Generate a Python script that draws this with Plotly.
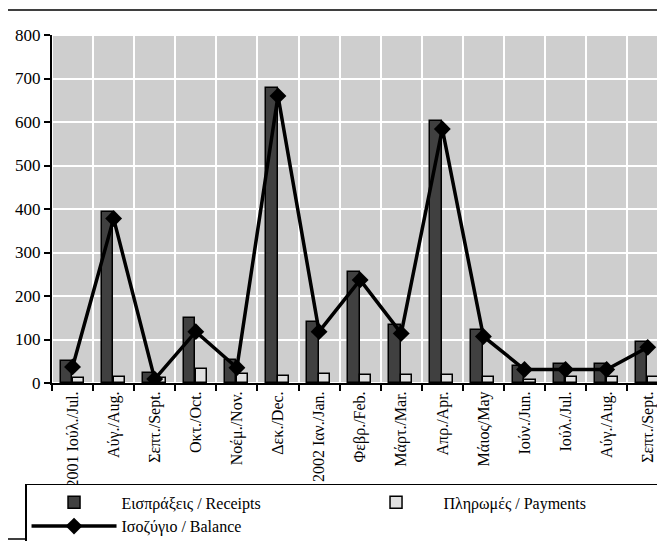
import plotly.graph_objects as go

months = ["2001 Ιούλ./Jul.", "Αύγ./Aug.", "Σεπτ./Sept.", "Οκτ./Oct.", "Νοέμ./Nov.",
          "Δεκ./Dec.", "2002 Ιαν./Jan.", "Φεβρ./Feb.", "Μάρτ./Mar.", "Απρ./Apr.",
          "Μάιος/May", "Ιούν./Jun.", "Ιούλ./Jul.", "Αύγ./Aug.", "Σεπτ./Sept."]
receipts = [50, 392, 23, 149, 53, 678, 140, 255, 133, 602, 122, 39, 44, 44, 94]
payments = [12, 14, 12, 32, 21, 17, 21, 18, 18, 18, 13, 8, 13, 13, 13]
balance = [37, 378, 9, 118, 35, 660, 118, 237, 114, 584, 107, 31, 31, 31, 82]
yticks = [0, 100, 200, 300, 400, 500, 600, 700, 800]

xs = list(range(len(months)))
serif = "Liberation Serif, Times New Roman, serif"

fig = go.Figure()

# stippled background cells, white gaps act as gridlines
bg_x, bg_base, bg_h = [], [], []
for i in xs:
    for k in range(len(yticks) - 1):
        bg_x.append(i)
        bg_base.append(yticks[k])
        bg_h.append(yticks[k + 1] - yticks[k])
fig.add_trace(go.Bar(
    x=bg_x, y=bg_h, base=bg_base, width=1, offset=-0.5,
    marker=dict(color="white", line=dict(color="white", width=2),
                pattern=dict(shape=".", fgcolor="#1e1e1e", bgcolor="white",
                             size=2, solidity=0.5)),
    showlegend=False, hoverinfo="skip",
))

fig.add_trace(go.Bar(
    x=xs, y=receipts, name="Εισπράξεις / Receipts", width=0.28, offset=-0.29,
    marker=dict(color="#404040", line=dict(color="black", width=1.5)),
))
fig.add_trace(go.Bar(
    x=xs, y=payments, name="Πληρωμές / Payments", width=0.27, offset=0.0,
    marker=dict(color="#e0e0e0", line=dict(color="black", width=1.5)),
))
fig.add_trace(go.Scatter(
    x=xs, y=balance, name="Ισοζύγιο / Balance", mode="lines+markers",
    line=dict(color="black", width=3.5),
    marker=dict(symbol="diamond", size=13, color="black"),
))

# page body adds an 8px offset, so margins are shifted by 8
fig.update_layout(
    width=665, height=541,
    margin=dict(l=44, r=8, t=27, b=166, autoexpand=False),
    paper_bgcolor="white", plot_bgcolor="white",
    font=dict(family=serif, size=14, color="black"),
    bargap=0,
    legend=dict(
        orientation="h", x=-0.044, y=-0.29, xanchor="left", yanchor="top",
        entrywidth=222, entrywidthmode="pixels",
        bordercolor="black", borderwidth=1.5, bgcolor="white",
        font=dict(family=serif, size=16), itemwidth=85,
        traceorder="normal", tracegroupgap=0,
    ),
    shapes=[dict(type="rect", xref="paper", yref="paper",
                 x0=-0.0734, x1=1.05, y0=-0.448, y1=1.072,
                 line=dict(color="black", width=1.5), layer="below")],
)
fig.update_xaxes(
    range=[-0.5, 14.42], tickvals=xs, ticktext=months, tickangle=-90,
    ticks="", showgrid=False, zeroline=False, automargin=False,
    showline=True, linecolor="black", linewidth=2,
    tickfont=dict(family=serif, size=16),
    minor=dict(tick0=0.5, dtick=1, ticks="outside", ticklen=6,
               tickcolor="black", tickwidth=1.5, showgrid=False),
)
fig.update_yaxes(
    range=[0, 800], tickvals=yticks, ticks="outside", ticklen=6,
    tickcolor="black", tickwidth=1.5, showgrid=False, zeroline=False,
    showline=True, linecolor="black", linewidth=2, automargin=False,
    tickfont=dict(family=serif, size=17),
)

fig.write_html("out.html")
